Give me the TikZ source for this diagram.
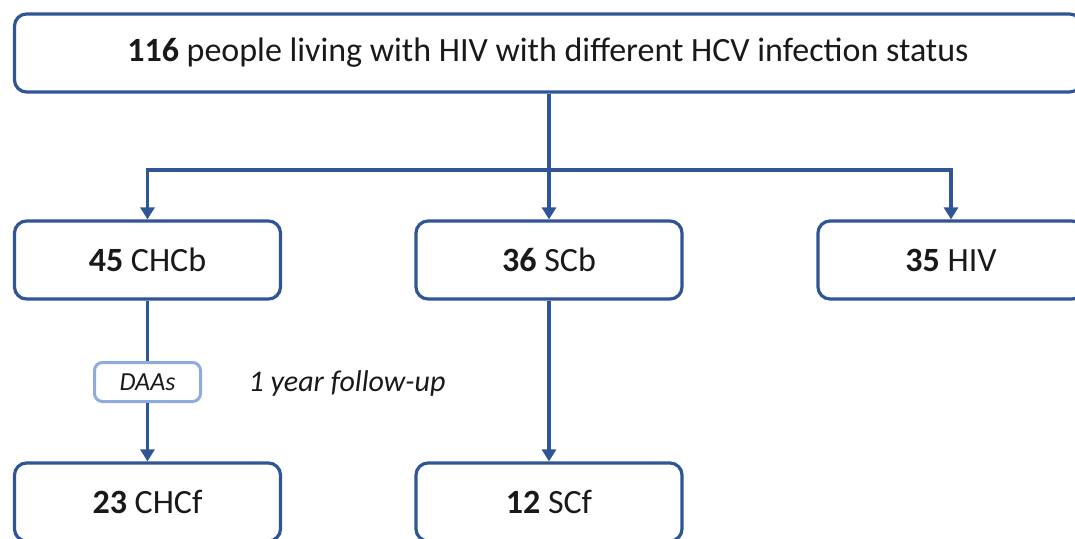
\documentclass[tikz,border=0pt]{standalone}
\usepackage{fontspec}
\setmainfont{Carlito}
\usetikzlibrary{arrows.meta}
\definecolor{boxblue}{RGB}{47,85,151}
\definecolor{lightblue}{RGB}{143,170,220}
\definecolor{txtgrey}{RGB}{25,25,25}
\tikzstyle{flowbox}=[draw=boxblue,line width=3.2pt,rounded corners=12pt,minimum width=266pt,minimum height=78pt,text=txtgrey,font=\fontsize{34}{40}\selectfont]
\tikzstyle{treatbox}=[draw=lightblue,line width=3pt,rounded corners=8pt,minimum width=106pt,minimum height=39pt,text=txtgrey,font=\fontsize{26}{31}\selectfont\itshape]
\tikzstyle{link}=[draw=boxblue,line width=3.2pt]
\tikzstyle{flow}=[link,-{Triangle[width=14pt,length=12pt]}]

\begin{document}
\begin{tikzpicture}[x=1pt,y=-1pt]
	\useasboundingbox (0,0) rectangle (1075,538);
	\clip (0,0) rectangle (1075,538);
	% top
	\node [flowbox, minimum width=1067pt] (top) at (548,53) {\textbf{116} people living with HIV with different HCV infection status};
	% baseline groups
	\node [flowbox] (chcb) at (147.5,260) {\textbf{45} CHCb};
	\node [flowbox] (scb) at (549,260) {\textbf{36} SCb};
	\node [flowbox] (hiv) at (951,260) {\textbf{35} HIV};
	% follow-up
	\node [treatbox] (daas) at (147.5,382) {DAAs};
	\node [text=txtgrey, font=\fontsize{30}{35}\selectfont\itshape] (fup) at (347,383) {1 year follow-up};
	\node [flowbox] (chcf) at (147.5,502) {\textbf{23} CHCf};
	\node [flowbox] (scf) at (549,502) {\textbf{12} SCf};

	\coordinate (split) at (549,170);
	\draw[link] (top.south -| scb.north) -- (split);
	\draw[flow] (split) -- (scb.north);
	\draw[flow] (split) -| (chcb.north);
	\draw[flow] (split) -| (hiv.north);
	\draw[link] (chcb) -- (daas);
	\draw[flow] (daas) -- (chcf);
	\draw[flow] (scb) -- (scf);
\end{tikzpicture}
\end{document}
